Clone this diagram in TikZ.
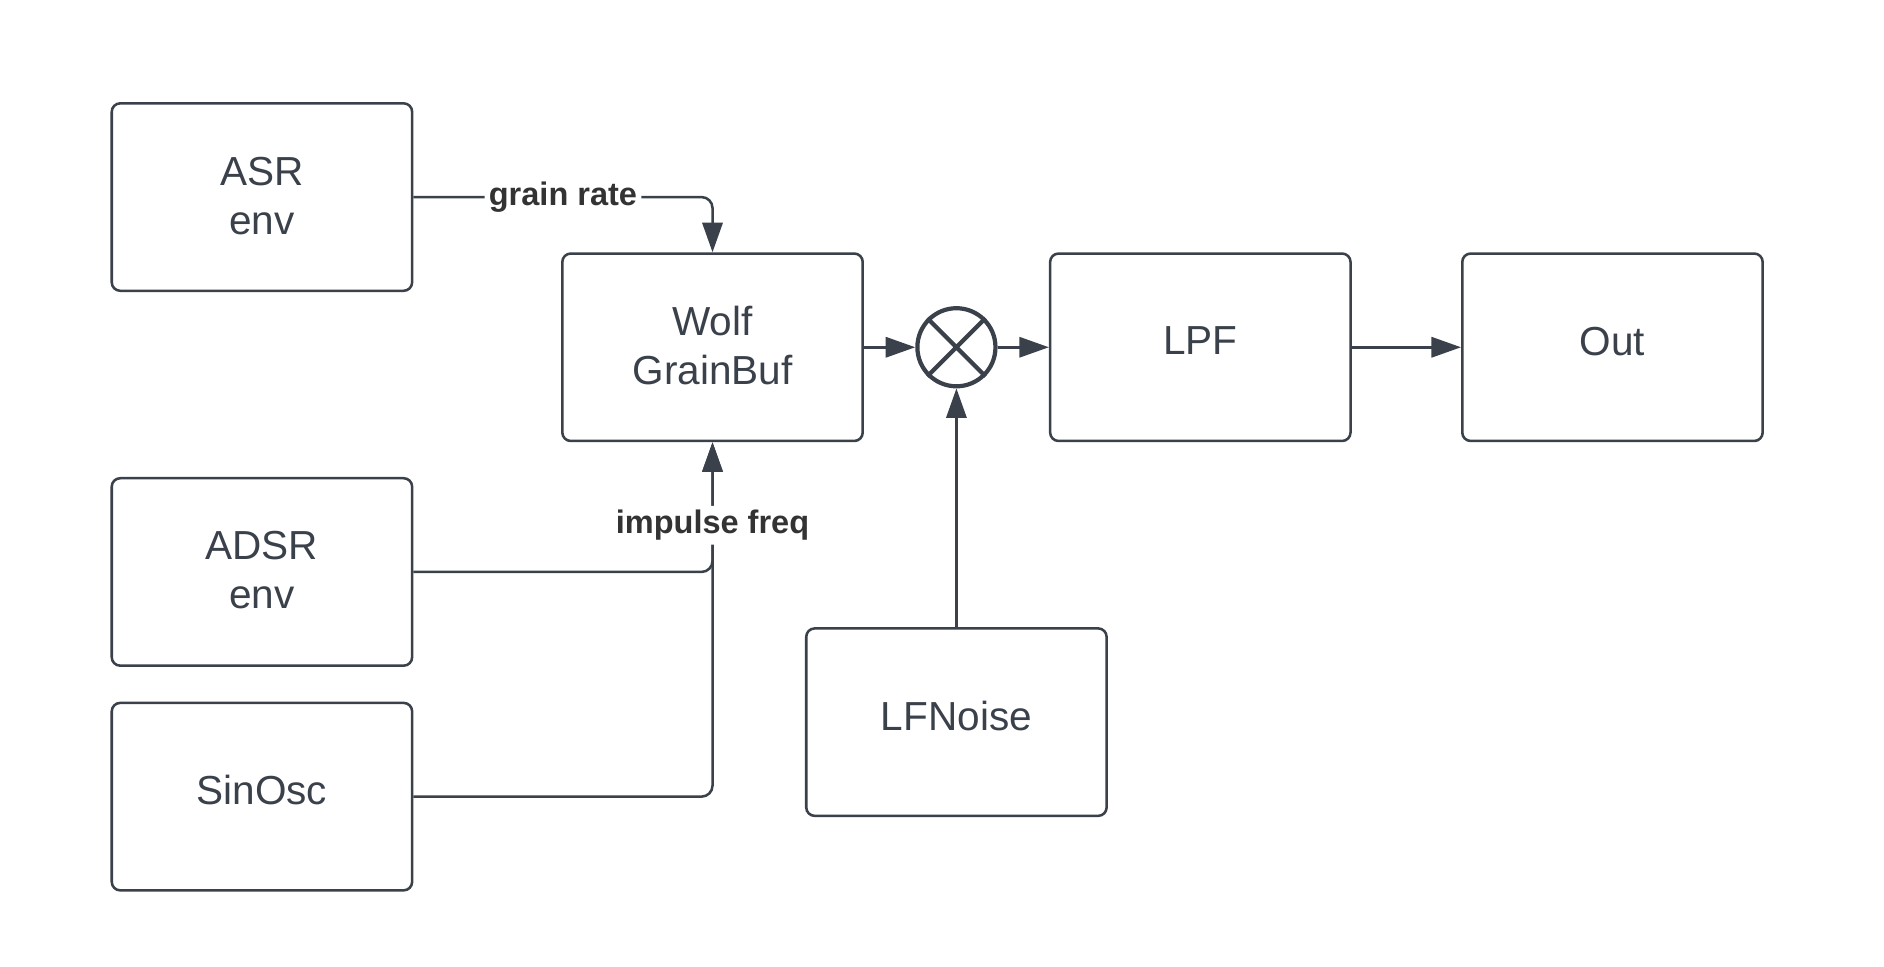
\documentclass[tikz,border=0pt]{standalone}
\usepackage{fontspec}
\setmainfont{Liberation Sans}
\usetikzlibrary{arrows.meta}
\definecolor{linegray}{RGB}{58,65,74}
\definecolor{labelgray}{RGB}{51,51,51}

\begin{document}
\begin{tikzpicture}[
    unit/.style={draw=linegray, line width=0.6pt, rounded corners=2pt,
        minimum width=2.5cm, minimum height=1.56cm, align=center,
        text=linegray, font=\fontsize{9.6}{11.6}\selectfont, text depth=3pt},
    twoline/.style={unit, text depth=0.8pt},
    mixer/.style={circle, draw=linegray, line width=1pt, minimum size=0.65cm, inner sep=0pt},
    wire/.style={draw=linegray, line width=0.6pt, rounded corners=2.6pt,
        -{Triangle[length=7pt,width=4.8pt]}},
    tag/.style={fill=white, inner sep=1pt, text=labelgray,
        font=\bfseries\fontsize{7.7}{9}\selectfont}
  ]
    % ==== Canvas ====
    \useasboundingbox (0,0) rectangle (15.68,8.04);

    % Control sources on the left
    \node[twoline] (asr) at (2.18,6.40) {ASR\\env};
    \node[twoline] (adsr) at (2.18,3.28) {ADSR\\env};
    \node[unit] (sinosc) at (2.18,1.41) {SinOsc};

    % Signal chain
    \node[twoline] (wolf) at (5.93,5.15) {Wolf\\GrainBuf};
    \node[mixer] (mix) at (7.96,5.15) {};
    \draw[linegray, line width=1pt] (mix.45) -- (mix.225) (mix.135) -- (mix.315);
    \node[unit] (lpf) at (9.99,5.15) {LPF};
    \node[unit] (out) at (13.42,5.15) {Out};
    \node[unit] (lfnoise) at (7.96,2.03) {LFNoise};

    % Connections
    \draw[wire] (asr.east) -| node[tag, pos=0.25] {grain rate} (wolf.north);
    \draw[wire] (sinosc.east) -| (wolf.south);
    \draw[wire] (adsr.east) -| node[tag, pos=0.68] {impulse freq} (wolf.south);
    \draw[wire] (wolf.east) -- (mix.west);
    \draw[wire] (mix.east) -- (lpf.west);
    \draw[wire] (lpf.east) -- (out.west);
    \draw[wire] (lfnoise.north) -- (mix.south);
\end{tikzpicture}
\end{document}
